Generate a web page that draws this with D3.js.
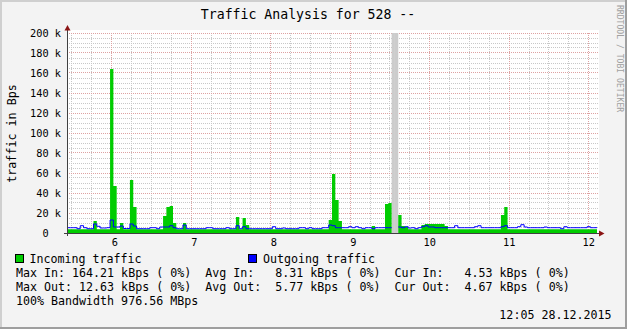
<!DOCTYPE html>
<html><head><meta charset="utf-8">
<script src="https://cdn.jsdelivr.net/npm/d3@7"></script>
<style>
html,body{margin:0;padding:0;background:#f3f3f3;}
svg{display:block;}
text{font-family:"DejaVu Sans Mono",monospace;white-space:pre;fill:#000;}
</style></head><body>
<svg id="c" width="627" height="329" xml:space="preserve"></svg>
<script>
// ---------- data ----------
const chartTitle = "Traffic Analysis for 528 --";
const yAxisTitle = "traffic in Bps";
const watermark = "RRDTOOL / TOBI OETIKER";
const timestamp = "12:05 28.12.2015";
// time axis in hours counted from day "5" 00:00
const startHour = 10.5;
const endHour = 170.5;
// hourly samples (kBps), bin i covers [startHour+i, startHour+i+1); null = unknown
const inTraffic = [
  3.8,3.8,3.8,3.8,3.8,3.8,3.8,3.8,12,3.8,
  3.8,3.8,3.8,164,47,3.8,10,3.8,3.8,53,
  26,3.8,3.8,3.8,3.8,3.8,3.8,3.8,3.8,17,
  26,27,10,3.8,3.8,10,3.8,3.8,3.8,3.8,
  3.8,3.8,3.8,3.8,3.8,3.8,3.8,3.8,3.8,3.8,
  3.8,16,3.8,15,8,3.8,3.8,3.8,3.8,3.8,
  3.8,3.8,3.8,3.8,3.8,3.8,3.8,3.8,3.8,3.8,
  3.8,3.8,3.8,3.8,3.8,3.8,3.8,3.8,3.8,13,
  59,33,12,3.8,3.8,3.8,3.8,3.8,3.8,3.8,
  3.8,3.8,7,3.8,3.8,3.8,29,30,null,null,
  18,7,6,3.8,3.8,3.8,3.8,8,9,9,
  9,9,9,9,7,3.8,3.8,3.8,3.8,3.8,
  3.8,3.8,3.8,3.8,3.8,3.8,3.8,3.8,3.8,3.8,
  3.8,18,26,3.8,3.8,3.8,3.8,3.8,3.8,3.8,
  3.8,3.8,3.8,3.8,3.8,3.8,3.8,3.8,3.8,3.8,
  3.8,3.8,3.8,3.8,3.8,3.8,3.8,3.8,3.8,3.8
];
const outTraffic = [
  5.3,5.3,5.3,4.3,7.3,5.3,4.3,4.3,9,6.7,
  5,5,5.3,13,6,6,7,4.5,4.5,9,
  7,4.3,4.3,4.3,4.3,5.3,5.3,4.3,6,6,
  6,7.3,5.3,4.3,4.3,8,4.3,4.3,4.3,4.3,
  4.3,4.3,5.3,5.3,4.3,4.3,4.3,4.3,5.3,4.3,
  4.3,7.3,4.3,6.3,4.3,4.3,4.3,4.3,4.3,4.3,
  4.3,4.3,6.3,4.3,4.3,5,4.3,4.3,4.3,4.3,
  5.3,5.3,4.3,5.3,4.3,4.3,4.3,5.3,5.3,8,
  7.3,5.3,5.3,5.3,5.3,6.3,5.3,6.3,5.3,4.3,
  5.3,5.3,4.3,5.3,5.3,5.3,5.3,5.3,null,null,
  6,5.3,6.3,5,5.3,4.3,5.3,6.3,7.3,6,
  6,5.3,5.3,5.3,5.3,5.3,5.3,7.3,5.3,5.3,
  5.3,5.3,5.3,6.3,7.3,5.3,5.3,5.3,5.3,5.3,
  5.3,6.3,7.3,5.3,5.3,5.3,6.3,8.3,6,5.3,
  5.3,5.3,5.3,5.3,6,5.3,5.3,5.3,5.3,4.3,
  6.3,5.3,5.3,5.3,5.3,5.3,5.3,6.3,5.3,5.3
];
const yMajorTicks = [0,20,40,60,80,100,120,140,160,180,200];
const yTickLabels = ["0  ","20 k","40 k","60 k","80 k","100 k","120 k","140 k","160 k","180 k","200 k"];
const xMajorHours = [24,48,72,96,120,144,168];
const xTickLabels = [" 6"," 7"," 8"," 9","10","11","12"];
const seriesNames = ["Incoming traffic","Outgoing traffic"];
const statRows = [
  "Max In: 164.21 kBps ( 0%)  Avg In:   8.31 kBps ( 0%)  Cur In:   4.53 kBps ( 0%)",
  "Max Out: 12.63 kBps ( 0%)  Avg Out:  5.77 kBps ( 0%)  Cur Out:  4.67 kBps ( 0%)",
  "100% Bandwidth 976.56 MBps"
];

// ---------- drawing ----------
const W = 627, H = 329;
const L = 67, R = 597, T = 33, B = 233;
const GREEN = "#00cc00", BLUE = "#0000ff";
const svg = d3.select("#c");

svg.append("rect").attr("width",W).attr("height",H).attr("fill","#f3f3f3");
// shaded frame
svg.append("rect").attr("x",0).attr("y",0).attr("width",W).attr("height",2).attr("fill","#cfcfcf");
svg.append("rect").attr("x",0).attr("y",0).attr("width",2).attr("height",H).attr("fill","#cfcfcf");
svg.append("rect").attr("x",0).attr("y",H-2).attr("width",W).attr("height",2).attr("fill","#9e9e9e");
svg.append("rect").attr("x",W-2).attr("y",0).attr("width",2).attr("height",H).attr("fill","#9e9e9e");

const x = d3.scaleLinear().domain([startHour,endHour]).range([L,R]);
const y = d3.scaleLinear().domain([0,200]).range([B,T]);

// canvas
svg.append("rect").attr("x",L).attr("y",T-3).attr("width",R-L+2).attr("height",B-T+3).attr("fill","#ffffff");

const grid = svg.append("g").attr("shape-rendering","crispEdges");
const px = v => Math.floor(v)+0.5;
// minor grid
y.ticks(40).filter(v => v % 20 !== 0).forEach(v => {
  grid.append("line").attr("x1",L).attr("x2",R+2).attr("y1",px(y(v))).attr("y2",px(y(v)))
    .attr("stroke","#c8c8c8").attr("stroke-dasharray","1,1");
});
d3.range(12, endHour, 6).filter(h => h % 24 !== 0).forEach(h => {
  grid.append("line").attr("y1",T).attr("y2",B).attr("x1",px(x(h))).attr("x2",px(x(h)))
    .attr("stroke","#c8c8c8").attr("stroke-dasharray","1,1");
});
// major grid
yMajorTicks.filter(v => v>0).forEach(v => {
  grid.append("line").attr("x1",L).attr("x2",R+2).attr("y1",px(y(v))).attr("y2",px(y(v)))
    .attr("stroke","#dea2a2").attr("stroke-dasharray","1,1");
});
xMajorHours.forEach(h => {
  grid.append("line").attr("y1",T).attr("y2",B).attr("x1",px(x(h))).attr("x2",px(x(h)))
    .attr("stroke","#dea2a2").attr("stroke-dasharray","1,1");
});

// step points
function steps(arr){
  const pts = [];
  arr.forEach((v,i) => { pts.push({t:startHour+i, v}); pts.push({t:startHour+i+1, v}); });
  return pts;
}
const inPts = steps(inTraffic), outPts = steps(outTraffic);

// unknown band
inTraffic.forEach((v,i) => {
  if (v === null) {
    svg.append("rect").attr("x",x(startHour+i)).attr("width",x(startHour+i+1)-x(startHour+i))
      .attr("y",y(200)).attr("height",y(0)-y(200)).attr("fill","#cccccc");
  }
});

const clip = svg.append("clipPath").attr("id","pc").append("rect")
  .attr("x",L).attr("y",T-3).attr("width",R-L).attr("height",B-T+3);

const area = d3.area().defined(d => d.v !== null).x(d => x(d.t)).y0(y(0)).y1(d => y(d.v));
svg.append("path").datum(inPts).attr("d",area).attr("fill",GREEN).attr("clip-path","url(#pc)");
const line = d3.line().defined(d => d.v !== null).x(d => x(d.t)).y(d => y(d.v));
svg.append("path").datum(outPts).attr("d",line).attr("fill","none").attr("stroke",BLUE)
  .attr("stroke-width",1).attr("clip-path","url(#pc)");

// axes
const AX = "#404040", AR = "#8b1414";
svg.append("line").attr("x1",L+0.5).attr("x2",L+0.5).attr("y1",B+3).attr("y2",T-4).attr("stroke",AX);
svg.append("line").attr("x1",L-3).attr("x2",R+3).attr("y1",B+0.5).attr("y2",B+0.5).attr("stroke",AX);
svg.append("path").attr("d",`M${L-2.5},${T-2.5}L${L+0.5},${T-8}L${L+3.5},${T-2.5}Z`).attr("fill",AR);
svg.append("path").attr("d",`M${R+2},${B-2.5}L${R+7.5},${B+0.5}L${R+2},${B+3.5}Z`).attr("fill",AR);

// y tick labels
yMajorTicks.forEach((v,i) => {
  svg.append("text").attr("x",61).attr("y",y(v)+4).attr("text-anchor","end")
    .attr("font-size","10.3px").text(yTickLabels[i]);
});
// x tick labels
xMajorHours.forEach((h,i) => {
  svg.append("text").attr("x",x(h)).attr("y",245.6).attr("text-anchor","middle")
    .attr("font-size","10.3px").text(xTickLabels[i]);
});

// title
svg.append("text").attr("x",308).attr("y",18.5).attr("text-anchor","middle")
  .attr("font-size","13.2px").text(chartTitle);
// y title
svg.append("text").attr("transform","translate(15.5,133.5) rotate(-90)").attr("text-anchor","middle")
  .attr("font-size","11.7px").text(yAxisTitle);
// watermark
svg.append("text").attr("transform","translate(616.5,5) rotate(90)")
  .attr("font-size","8.1px").style("fill","#a0a0a0").text(watermark);

// legend
const legX = [15, 248], legTX = [29.5, 263];
[GREEN, BLUE].forEach((c,i) => {
  svg.append("rect").attr("x",legX[i]+0.5).attr("y",254.5).attr("width",8).attr("height",8)
    .attr("fill",c).attr("stroke","#000");
  svg.append("text").attr("x",legTX[i]).attr("y",263).attr("font-size","11.65px").text(seriesNames[i]);
});
statRows.forEach((s,i) => {
  svg.append("text").attr("x",16).attr("y",277+14*i).attr("font-size","11.65px").text(s);
});
svg.append("text").attr("x",611.5).attr("y",319.3).attr("text-anchor","end")
  .attr("font-size","11.65px").text(timestamp);
</script>
</body></html>
